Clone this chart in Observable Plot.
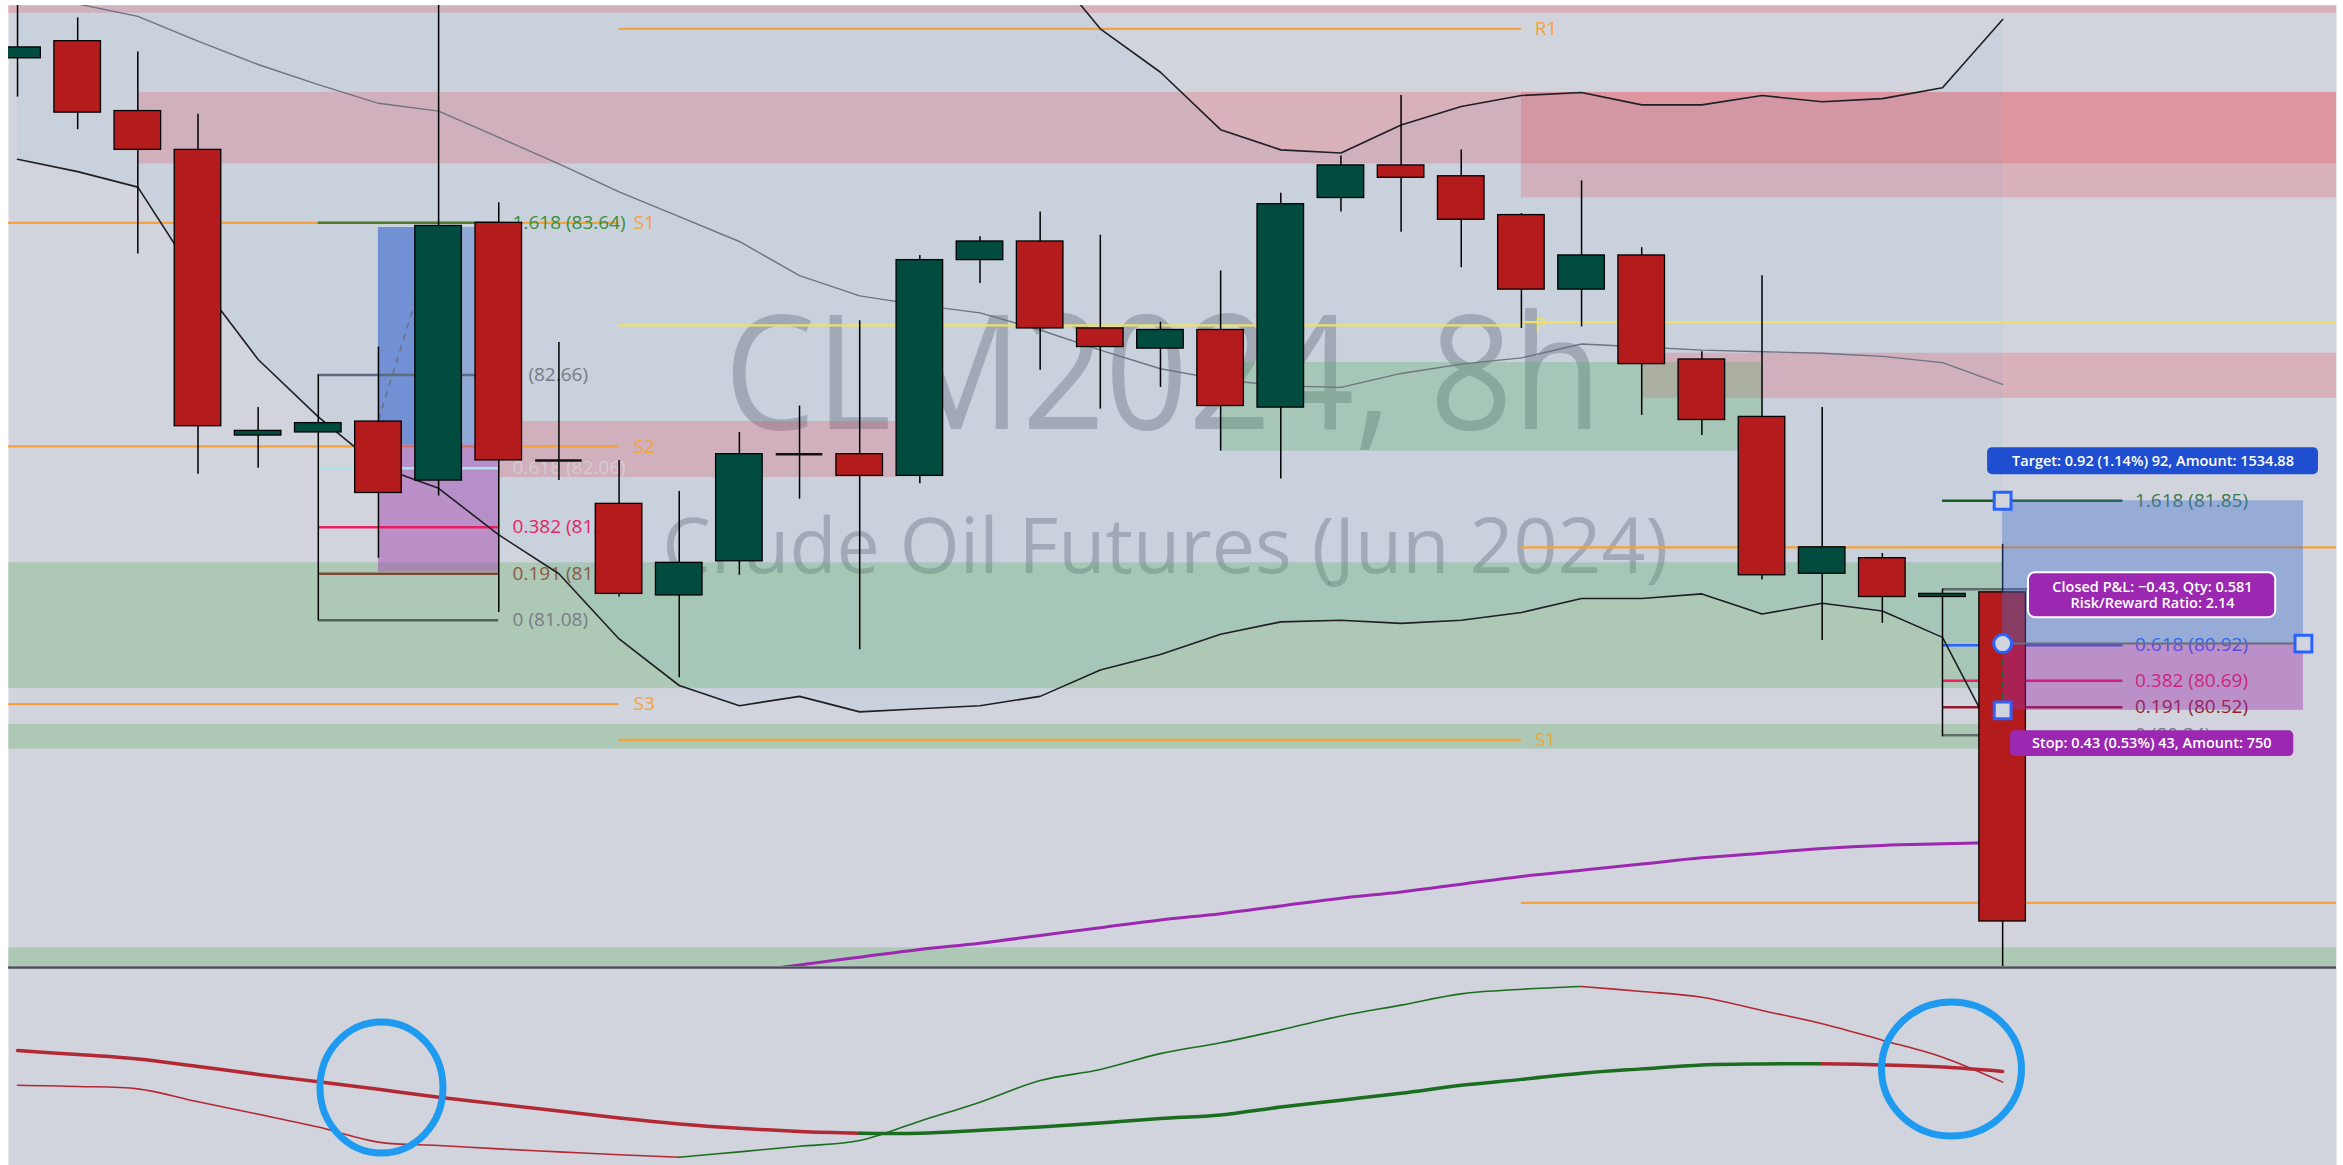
<!DOCTYPE html>
<html>
<head>
<meta charset="utf-8">
<script src="https://cdn.jsdelivr.net/npm/d3@7"></script>
<script src="https://cdn.jsdelivr.net/npm/@observablehq/plot@0.6"></script>
<style>
html, body { margin: 0; padding: 0; background: #fff; }
#chart { width: 2343px; height: 1165px; overflow: hidden; background: #fff; }
#chart svg { display: block; }
</style>
</head>
<body>
<div id="chart"></div>
<script>
// ================= DATA =================
// 8h candles of CLM2024 (index 0..33)
const opens  = [84.70,84.81,84.36,84.11,82.27,82.29,82.36,81.98,83.64,82.11,81.83,81.24,81.46,82.15,82.15,82.01,83.40,83.52,82.96,82.83,82.95,82.45,83.80,84.01,83.94,83.69,83.21,83.43,82.76,82.39,81.38,81.48,81.23,81.26];
const highs  = [85.20,84.96,84.74,84.34,82.45,82.66,82.84,85.50,83.77,82.87,82.11,81.91,82.29,82.46,83.01,83.43,83.55,83.71,83.56,83.00,83.33,83.83,84.07,84.46,84.11,83.70,83.91,83.48,82.81,83.30,82.45,81.51,81.28,81.57];
const lows   = [84.45,84.24,83.44,82.02,82.06,81.08,81.48,81.88,81.13,81.98,81.23,80.71,81.37,81.86,80.89,81.96,83.25,82.69,82.44,82.58,82.17,81.99,83.71,83.58,83.35,82.96,82.97,82.40,82.27,81.34,80.95,81.06,80.33,78.80];
const closes = [84.77,84.35,84.11,82.33,82.30,82.35,81.90,83.62,82.11,82.11,81.25,81.45,82.15,82.15,82.01,83.40,83.52,82.96,82.84,82.95,82.46,83.76,84.01,83.93,83.66,83.21,83.43,82.73,82.37,81.37,81.55,81.23,81.25,79.14];

// Bollinger bands (upper is above the visible area before index 17)
const bbBasis = [85.12,85.05,84.97,84.81,84.66,84.53,84.41,84.36,84.19,84.02,83.84,83.68,83.52,83.30,83.17,83.11,83.06,82.95,82.82,82.70,82.63,82.59,82.58,82.67,82.73,82.77,82.86,82.84,82.82,82.81,82.80,82.78,82.74,82.60];
const bbUpper = [null,null,null,null,null,null,null,null,null,null,null,null,null,null,null,null,null,85.36,84.89,84.61,84.24,84.11,84.09,84.27,84.39,84.46,84.48,84.40,84.40,84.46,84.42,84.44,84.51,84.95];
const bbLower = [84.05,83.97,83.87,83.27,82.76,82.39,82.07,81.93,81.63,81.38,80.96,80.66,80.53,80.59,80.49,80.51,80.53,80.59,80.76,80.86,80.99,81.07,81.08,81.06,81.08,81.13,81.22,81.22,81.25,81.12,81.19,81.14,80.97,80.23];

// slow moving average (purple), from index 12
const maStart = 12;
const maValues = [78.81,78.86,78.91,78.96,79.00,79.05,79.10,79.15,79.19,79.24,79.29,79.33,79.38,79.43,79.47,79.51,79.55,79.58,79.61,79.63,79.64,79.65];

// supply (red) and demand (green) zones: start index, end index, top, bottom
const redZoneStart  = [-1, 2, 25, 8, 27];
const redZoneEnd    = [40, 40, 40, 14.6, 40];
const redZoneTop    = [85.04, 84.48, 84.48, 82.36, 82.80];
const redZoneBottom = [84.99, 84.02, 83.80, 82.00, 82.51];
const greenZoneStart  = [20, -1, -1, -1];
const greenZoneEnd    = [29, 33, 33, 40];
const greenZoneTop    = [82.74, 81.45, 80.41, 78.97];
const greenZoneBottom = [82.17, 80.64, 80.25, 78.70];

// pivot points (three sessions)
const pivotStart = [-1, -1, -1, 10, 10, 10, 25, 25, 25];
const pivotEnd   = [10, 10, 10, 25, 25, 25, 40, 40, 40];
const pivotPrice = [83.64, 82.20, 80.54, 84.89, 82.98, 80.31, 83.00, 81.55, 79.26];
const pivotName  = ["S1", "S2", "S3", "R1", "P", "S1", "P", "", ""];

// fib tools
const leftFibRatios  = ["1.618", "1", "0.618", "0.382", "0.191", "0"];
const leftFibPrices  = [83.64, 82.66, 82.06, 81.68, 81.38, 81.08];
const rightFibRatios = ["1.618", "1", "0.618", "0.382", "0.191", "0"];
const rightFibPrices = [81.85, 81.28, 80.92, 80.69, 80.52, 80.34];

// long position tool (right)
const posEntry = 80.93, posTarget = 81.85, posStop = 80.50;
const targetText = "Target: 0.92 (1.14%) 92, Amount: 1534.88";
const pnlText = "Closed P&L: \u22120.43, Qty: 0.581\nRisk/Reward Ratio: 2.14";
const stopText = "Stop: 0.43 (0.53%) 43, Amount: 750";

// lower oscillator pane
const oscSlow = [58.1,56.0,53.8,50.0,46.0,42.3,38.5,34.5,31.0,27.5,24.0,21.0,18.8,17.2,16.3,16.3,17.8,19.5,21.5,23.7,25.5,29.5,33.0,36.5,40.5,43.5,46.6,48.8,50.8,51.3,51.4,50.8,49.7,47.5];
const oscFast = [40.5,39.9,38.7,32.2,25.9,19.4,11.8,10.1,8.4,6.9,5.4,4.2,6.9,9.7,12.6,22.4,32.0,42.9,48.5,56.5,62.0,68.5,75.5,81.0,86.7,89.0,90.4,87.9,85.0,78.3,71.6,63.3,54.7,42.1];
const oscSlowBreaks = [0, 14, 30, 33];
const oscFastBreaks = [0, 11, 26, 33];

const watermark = "CLM2024, 8h";
const watermarkSub = "Crude Oil Futures (Jun 2024)";

// ================= STYLE =================
const W = 2343, MAIN_H = 966, LOW_H = 199;
const BG = "#d1d4dc";
const GREEN = "#014c3e", RED = "#b41b1c";
const ORANGE = "#f5a23b", YELLOW = "#ece06a";
const FONT = "'Open Sans', sans-serif";
const BW = 0.387;
const xDomain = [-0.15, 38.55];
const leftFibLine  = ["#4f7a2a", "#5d6a80", "#a9e3ec", "#e91e63", "#7a4a35", "#4f6355"];
const leftFibText  = ["#388e3c", "#787b86", "#e6f6f8", "#e91e63", "#8b5a45", "#787b86"];
const leftFibTextOpacity = [1, 1, 0.4, 1, 1, 1];
const rightFibLine = ["#1b5e20", "#5f6b68", "#2962ff", "#e91e63", "#8e1c2c", "#5f6f66"];
const rightFibText = ["#3a7a4d", "#787b86", "#2962ff", "#e91e63", "#8e1c2c", "#787b86"];

// ================= TABLES =================
const candles = opens.map((o, i) => ({i, open: o, high: highs[i], low: lows[i], close: closes[i]}));
const ups = candles.filter(d => d.close > d.open);
const downs = candles.filter(d => d.close < d.open);
const dojis = candles.filter(d => d.close === d.open);
const bb = bbBasis.map((b, i) => ({i, basis: b, upper: bbUpper[i], lower: bbLower[i]}));
const ma = maValues.map((v, k) => ({i: maStart + k, v}));
const redZones = redZoneStart.map((s, k) => ({s, e: redZoneEnd[k], t: redZoneTop[k], b: redZoneBottom[k]}));
const greenZones = greenZoneStart.map((s, k) => ({s, e: greenZoneEnd[k], t: greenZoneTop[k], b: greenZoneBottom[k]}));
const pivots = pivotPrice.map((p, k) => ({s: pivotStart[k], e: pivotEnd[k], p, name: pivotName[k]}));
const leftFib = leftFibRatios.map((r, k) => ({r, p: leftFibPrices[k], k}));
const rightFib = rightFibRatios.map((r, k) => ({r, p: rightFibPrices[k], k}));
// the "1" level label of the right fib sits fully under the P&L box in the reference
const rightFibLabelled = rightFib.filter(d => d.r !== "1");

const C = {clip: true};

const main = Plot.plot({
  width: W, height: MAIN_H,
  marginLeft: 8, marginRight: 7, marginTop: 5, marginBottom: 0,
  x: {domain: xDomain, axis: null},
  y: {domain: [78.85, 85.04], axis: null},
  style: {background: "#fff", fontFamily: FONT},
  marks: [
    Plot.frame({fill: BG, stroke: "none"}),
    // watermark
    Plot.text([watermark], {x: 19.04, y: 82.64, text: d => d, fontSize: 160, fontFamily: FONT, fill: "#787b86", fillOpacity: 0.47, textAnchor: "middle", lineAnchor: "middle"}),
    Plot.text([watermarkSub], {x: 19.08, y: 81.545, text: d => d, fontSize: 77, fontFamily: FONT, fill: "#787b86", fillOpacity: 0.47, textAnchor: "middle", lineAnchor: "middle"}),
    // zones
    Plot.rect(redZones, {x1: "s", x2: "e", y1: "b", y2: "t", fill: "rgb(242,54,69)", fillOpacity: 0.22, ...C}),
    Plot.rect(greenZones, {x1: "s", x2: "e", y1: "b", y2: "t", fill: "rgb(76,175,80)", fillOpacity: 0.27, ...C}),
    // bollinger background
    Plot.areaY(bb, {x: "i", y1: "lower", y2: d => d.upper ?? 86, fill: "rgb(33,150,243)", fillOpacity: 0.05, ...C}),
    // pivots
    Plot.ruleY(pivots, {y: "p", x1: "s", x2: "e", stroke: d => d.name === "P" ? YELLOW : ORANGE, strokeWidth: 2.2, ...C}),
    Plot.text(pivots.slice(0, 6), {x: d => d.s < 0 ? 10.24 : 25.22, y: "p", text: "name", fill: d => d.name === "P" ? YELLOW : ORANGE, fontSize: 19, fontFamily: FONT, textAnchor: "start", lineAnchor: "middle", ...C}),
    // left position tool (under candles)
    Plot.rect([0], {x1: 6, x2: 8, y1: 82.21, y2: 83.61, fill: "rgb(66,110,208)", fillOpacity: 0.4, ...C}),
    Plot.rect([0], {x1: 6, x2: 7, y1: 82.21, y2: 83.61, fill: "rgb(66,110,208)", fillOpacity: 0.4, ...C}),
    Plot.rect([0], {x1: 6, x2: 8, y1: 81.39, y2: 82.21, fill: "rgb(154,42,170)", fillOpacity: 0.4, ...C}),
    // left fib
    Plot.ruleY(leftFib, {y: "p", x1: 5, x2: 8, stroke: d => leftFibLine[d.k], strokeWidth: 2.5, ...C}),
    Plot.text(leftFib, {x: 8.23, y: "p", text: d => `${d.r} (${d.p.toFixed(2)})`, fill: d => leftFibText[d.k], fillOpacity: d => leftFibTextOpacity[d.k], fontSize: 19, fontFamily: FONT, textAnchor: "start", lineAnchor: "middle", ...C}),
    Plot.link([0], {x1: 6, y1: 82.37, x2: 7, y2: 83.62, stroke: "#6b7080", strokeWidth: 1.5, strokeDasharray: "6,6", ...C}),
    // right fib
    Plot.ruleY(rightFib, {y: "p", x1: 32, x2: 35, stroke: d => rightFibLine[d.k], strokeWidth: 2.5, ...C}),
    Plot.text(rightFibLabelled, {x: 35.2, y: "p", text: d => `${d.r} (${d.p.toFixed(2)})`, fill: d => rightFibText[d.k], fontSize: 19, fontFamily: FONT, textAnchor: "start", lineAnchor: "middle", ...C}),
    // bollinger lines and MA
    Plot.line(bb, {x: "i", y: "basis", stroke: "#6f737e", strokeWidth: 1.4, ...C}),
    Plot.line(bb.filter(d => d.upper != null), {x: "i", y: "upper", stroke: "#1e1e24", strokeWidth: 1.6, ...C}),
    Plot.line(bb, {x: "i", y: "lower", stroke: "#1e1e24", strokeWidth: 1.6, ...C}),
    Plot.line(ma, {x: "i", y: "v", stroke: "#9c27b0", strokeWidth: 3, curve: "catmull-rom", ...C}),
    // candles
    Plot.ruleX(candles, {x: "i", y1: "low", y2: "high", stroke: "#000", strokeWidth: 1.5, ...C}),
    Plot.rect(ups, {x1: d => d.i - BW, x2: d => d.i + BW, y1: "open", y2: "close", fill: GREEN, stroke: "#000", strokeWidth: 1.3, ...C}),
    Plot.rect(downs, {x1: d => d.i - BW, x2: d => d.i + BW, y1: "open", y2: "close", fill: RED, stroke: "#000", strokeWidth: 1.3, ...C}),
    Plot.ruleY(dojis, {y: "close", x1: d => d.i - BW, x2: d => d.i + BW, stroke: "#111", strokeWidth: 2.5, ...C}),
    // right position tool (over candles)
    Plot.rect([0], {x1: 33, x2: 38, y1: posEntry, y2: posTarget, fill: "rgb(66,110,208)", fillOpacity: 0.4, ...C}),
    Plot.rect([0], {x1: 33, x2: 38, y1: posStop, y2: posEntry, fill: "rgb(154,42,170)", fillOpacity: 0.4, ...C}),
    Plot.ruleY([posEntry], {x1: 33, x2: 38, stroke: "#6b6e78", strokeWidth: 2, ...C}),
    Plot.ruleX([33], {y1: posStop, y2: posEntry, stroke: "#2e5e3e", strokeWidth: 1.5, strokeDasharray: "6,5", ...C}),
    Plot.dot([[33, posTarget], [33, posStop], [38, posEntry]], {x: d => d[0], y: d => d[1], symbol: "square", r: 9.5, fill: BG, stroke: "#2962ff", strokeWidth: 3}),
    Plot.dot([[33, posEntry]], {x: d => d[0], y: d => d[1], r: 9, fill: BG, stroke: "#2962ff", strokeWidth: 3}),
    // labels
    Plot.rect([0], {x1: 32.75, x2: 38.25, y1: 82.018, y2: 82.192, fill: "#1f4fd0", rx: 5}),
    Plot.text([targetText], {x: 35.5, y: 82.105, text: d => d, fill: "#fff", fontSize: 14.5, fontWeight: 600, fontFamily: FONT, textAnchor: "middle", lineAnchor: "middle"}),
    Plot.rect([0], {x1: 33.43, x2: 37.54, y1: 81.097, y2: 81.387, fill: "#9c27b0", stroke: "#fff", strokeWidth: 2, rx: 7}),
    Plot.text([pnlText], {x: 35.49, y: 81.242, text: d => d, fill: "#fff", fontSize: 14.5, fontWeight: 600, fontFamily: FONT, textAnchor: "middle", lineAnchor: "middle", lineHeight: 1.12}),
    Plot.rect([0], {x1: 33.13, x2: 37.84, y1: 80.202, y2: 80.369, fill: "#9c27b0", rx: 5}),
    Plot.text([stopText], {x: 35.48, y: 80.286, text: d => d, fill: "#fff", fontSize: 14.5, fontWeight: 600, fontFamily: FONT, textAnchor: "middle", lineAnchor: "middle"})
  ]
});

// ---------- lower pane ----------
function ellipseSymbol(rx, ry) {
  const k = 0.5522847498;
  return {draw(ctx) {
    ctx.moveTo(rx, 0);
    ctx.bezierCurveTo(rx, ry * k, rx * k, ry, 0, ry);
    ctx.bezierCurveTo(-rx * k, ry, -rx, ry * k, -rx, 0);
    ctx.bezierCurveTo(-rx, -ry * k, -rx * k, -ry, 0, -ry);
    ctx.bezierCurveTo(rx * k, -ry, rx, -ry * k, rx, 0);
    ctx.closePath();
  }};
}
function segments(values, breaks, colors, width) {
  const marks = [];
  for (let s = 0; s < breaks.length - 1; ++s) {
    const pts = d3.range(breaks[s], breaks[s + 1] + 1).map(i => ({i, v: values[i]}));
    marks.push(Plot.line(pts, {x: "i", y: "v", stroke: colors[s], strokeWidth: width, curve: "catmull-rom"}));
  }
  return marks;
}
const OSC_RED = "#b22833", OSC_GREEN = "#1b6e20";
const lower = Plot.plot({
  width: W, height: LOW_H,
  marginLeft: 8, marginRight: 7, marginTop: 1, marginBottom: 0,
  x: {domain: xDomain, axis: null},
  y: {domain: [0, 100], axis: null},
  style: {background: "#fff", fontFamily: FONT},
  marks: [
    Plot.frame({fill: BG, stroke: "none"}),
    ...segments(oscFast, oscFastBreaks, [OSC_RED, OSC_GREEN, OSC_RED], 1.6),
    ...segments(oscSlow, oscSlowBreaks, [OSC_RED, OSC_GREEN, OSC_RED], 3.5),
    Plot.dot([[6.05, 39.4]], {x: d => d[0], y: d => d[1], symbol: ellipseSymbol(61.5, 65.5), fill: "none", stroke: "#1e9bf0", strokeWidth: 7}),
    Plot.dot([[32.15, 48.7]], {x: d => d[0], y: d => d[1], symbol: ellipseSymbol(70, 67), fill: "none", stroke: "#1e9bf0", strokeWidth: 7}),
    Plot.ruleY([100], {stroke: "#4a4e59", strokeWidth: 2.5})
  ]
});

const chart = document.getElementById("chart");
chart.appendChild(main);
chart.appendChild(lower);

// fit watermark title width to the reference
d3.select(main).selectAll("text").each(function() {
  if (this.textContent === watermark) {
    this.setAttribute("textLength", 878);
    this.setAttribute("lengthAdjust", "spacingAndGlyphs");
  }
});
</script>
</body>
</html>
